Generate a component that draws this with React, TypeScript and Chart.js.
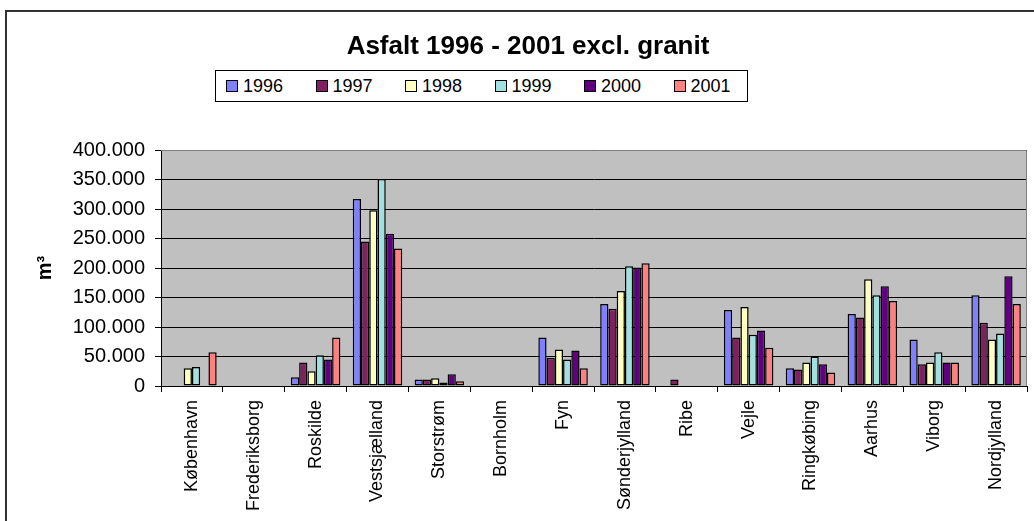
import React, { useEffect, useRef } from "react";
import { Chart, registerables } from "chart.js";

Chart.register(...registerables);

const categories = [
  "København", "Frederiksborg", "Roskilde", "Vestsjælland", "Storstrøm", "Bornholm", "Fyn",
  "Sønderjylland", "Ribe", "Vejle", "Ringkøbing", "Aarhus", "Viborg", "Nordjylland",
];

const years = ["1996", "1997", "1998", "1999", "2000", "2001"];

const v1996 = [0, 0, 15000, 317000, 11000, 0, 82000, 139000, 0, 129000, 30000, 122000, 79000, 154000];
const v1997 = [0, 0, 40000, 245000, 11000, 0, 48000, 131000, 11000, 82000, 28000, 116000, 37000, 107000];
const v1998 = [30000, 0, 25000, 298000, 13000, 0, 62000, 161000, 0, 134000, 40000, 181000, 40000, 79000];
const v1999 = [32000, 0, 52000, 351000, 6000, 0, 45000, 203000, 0, 87000, 50000, 154000, 57000, 89000];
const v2000 = [0, 0, 45000, 258000, 20000, 0, 60000, 201000, 0, 94000, 37000, 169000, 40000, 186000];
const v2001 = [57000, 0, 82000, 233000, 8000, 0, 30000, 208000, 0, 65000, 23000, 144000, 40000, 139000];

const seriesValues = [v1996, v1997, v1998, v1999, v2000, v2001];
const seriesColors = ["#8080FF", "#802060", "#FFFFC0", "#A0E0E0", "#600080", "#FF8080"];

const yTicks = [0, 50000, 100000, 150000, 200000, 250000, 300000, 350000, 400000];

const titleText = "Asfalt 1996 - 2001 excl. granit";
const yAxisTitle = "m³";

const FONT = "'Liberation Sans', Arial, sans-serif";

function fmt(v: number): string {
  return String(v).replace(/\B(?=(\d{3})+(?!\d))/g, ".");
}

const plotBg = {
  id: "plotBg",
  beforeDraw(chart: any) {
    const { ctx, chartArea } = chart;
    ctx.save();
    ctx.fillStyle = "#C0C0C0";
    ctx.fillRect(chartArea.left, chartArea.top, chartArea.right - chartArea.left, chartArea.bottom - chartArea.top);
    ctx.restore();
  },
  afterDatasetsDraw(chart: any) {
    const { ctx, chartArea } = chart;
    ctx.save();
    ctx.strokeStyle = "#808080";
    ctx.lineWidth = 1;
    ctx.beginPath();
    ctx.moveTo(chartArea.left, chartArea.top + 0.5);
    ctx.lineTo(chartArea.right - 0.5, chartArea.top + 0.5);
    ctx.lineTo(chartArea.right - 0.5, chartArea.bottom);
    ctx.stroke();
    ctx.restore();
  },
};

export default function App() {
  const ref = useRef<HTMLCanvasElement>(null);

  useEffect(() => {
    if (!ref.current) return;
    const chart = new Chart(ref.current, {
      type: "bar",
      data: {
        labels: categories,
        datasets: years.map((y, i) => ({
          label: y,
          data: seriesValues[i],
          backgroundColor: seriesColors[i],
          borderColor: "#000000",
          borderWidth: 1.5,
          borderSkipped: false,
          categoryPercentage: 0.8,
          barPercentage: 1.0,
        })),
      },
      options: {
        responsive: false,
        animation: false,
        layout: { padding: { left: 30, right: 7, top: 150, bottom: 9 } },
        plugins: {
          legend: { display: false },
          title: { display: false },
          tooltip: { enabled: false },
        },
        scales: {
          x: {
            grid: {
              display: true,
              drawOnChartArea: false,
              drawTicks: true,
              tickLength: 6,
              color: "#000000",
              offset: true,
            },
            border: { display: true, color: "#000000", width: 1 },
            ticks: {
              autoSkip: false,
              maxRotation: 90,
              minRotation: 90,
              padding: 8,
              color: "#000000",
              font: { family: FONT, size: 18 },
            },
            afterFit: (scale: any) => {
              scale.height = 126;
            },
          },
          y: {
            min: 0,
            max: 400000,
            afterBuildTicks: (scale: any) => {
              scale.ticks = yTicks.map((v) => ({ value: v }));
            },
            grid: {
              color: "#000000",
              lineWidth: 1,
              drawTicks: true,
              tickLength: 6,
            },
            border: { display: true, color: "#000000", width: 1 },
            ticks: {
              padding: 10,
              color: "#000000",
              font: { family: FONT, size: 20 },
              callback: (v: any) => fmt(Number(v)),
            },
            title: {
              display: true,
              text: yAxisTitle,
              color: "#000000",
              padding: { top: 3, bottom: 0 },
              font: { family: FONT, size: 20, weight: "bold" },
            },
            afterFit: (scale: any) => {
              scale.width = 131;
            },
          },
        },
      },
      plugins: [plotBg],
    });
    return () => chart.destroy();
  }, []);

  return (
    <div style={{ position: "fixed", left: 0, top: 0, width: 1034, height: 521, background: "#FFFFFF", overflow: "hidden" }}>
      <div
        style={{
          position: "absolute",
          left: 5,
          top: 10,
          width: 1100,
          height: 600,
          borderLeft: "2px solid #333333",
          borderTop: "2px solid #333333",
        }}
      />
      <canvas ref={ref} width={1034} height={521} style={{ position: "absolute", left: 0, top: 0 }} />
      <div
        style={{
          position: "absolute",
          left: 528,
          top: 30,
          transform: "translateX(-50%)",
          whiteSpace: "nowrap",
          fontFamily: FONT,
          fontWeight: "bold",
          fontSize: 26,
          color: "#000",
          lineHeight: "30px",
        }}
      >
        {titleText}
      </div>
      <div
        style={{
          position: "absolute",
          left: 215,
          top: 70,
          width: 531,
          height: 30,
          border: "1px solid #000",
          background: "#FFFFFF",
          fontFamily: FONT,
          fontSize: 18,
          color: "#000",
        }}
      >
        {years.map((y, i) => (
          <div key={y} style={{ position: "absolute", left: 10 + i * 89.5, top: 4, display: "flex", alignItems: "center", height: 22 }}>
            <span
              style={{
                display: "inline-block",
                width: 10,
                height: 10,
                background: seriesColors[i],
                border: "1px solid #000",
                marginRight: 5,
              }}
            />
            <span>{y}</span>
          </div>
        ))}
      </div>
    </div>
  );
}
